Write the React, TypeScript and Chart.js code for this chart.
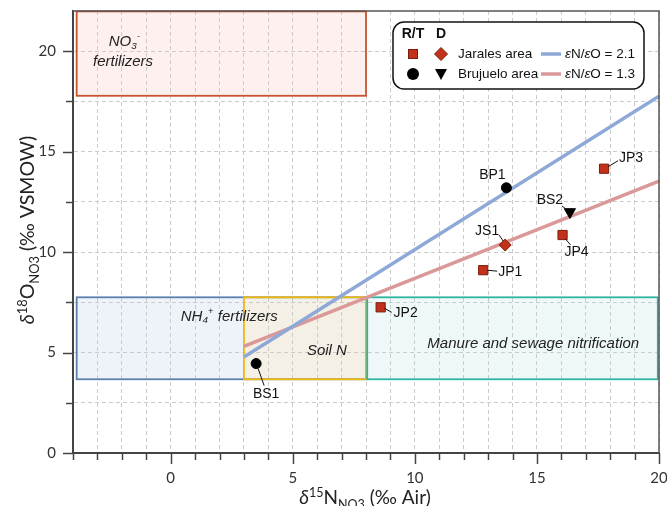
import React, { useEffect, useRef } from "react";
import { Chart, registerables } from "chart.js";

Chart.register(...registerables);

// ---------------- data ----------------
const xMin = -4;
const xMax = 20;
const yMin = 0;
const yMax = 22;
const xLabelValues = [0, 5, 10, 15, 20];
const yLabelValues = [0, 5, 10, 15, 20];

// R/T samples, Jarales area (squares)
const jaralesRTNames = ["JP1", "JP2", "JP3", "JP4"];
const jaralesRTX = [12.8, 8.6, 17.75, 16.05];
const jaralesRTY = [9.1, 7.25, 14.15, 10.85];
// R/T samples, Brujuelo area (circles)
const brujueloRTNames = ["BS1", "BP1"];
const brujueloRTX = [3.5, 13.75];
const brujueloRTY = [4.45, 13.2];
// D samples, Jarales area (diamond)
const jaralesDNames = ["JS1"];
const jaralesDX = [13.7];
const jaralesDY = [10.35];
// D samples, Brujuelo area (triangle)
const brujueloDNames = ["BS2"];
const brujueloDX = [16.35];
const brujueloDY = [12.0];

// fractionation lines
const fractionX = [3, 20];
const fraction21Y = [4.78, 17.76];
const fraction13Y = [5.31, 13.53];

// source zones
const zoneKeys = ["no3", "nh4", "soil", "manure"];
const zoneX0 = [-3.85, -3.85, 3, 8.05];
const zoneX1 = [8, 8, 8, 19.95];
const zoneY0 = [17.78, 3.67, 3.67, 3.67];
const zoneY1 = [21.98, 7.75, 7.75, 7.75];

// ---------------- styles ----------------
const zoneStyle: Record<string, { fill: string; stroke: string }> = {
  no3: { fill: "#fdf0ef", stroke: "#c8542e" },
  nh4: { fill: "#eef3fa", stroke: "#5b82ad" },
  soil: { fill: "#f4f0e6", stroke: "#f1b80c" },
  manure: { fill: "#eff8f9", stroke: "#2fb5a3" },
};

// label offsets in pixels relative to the marker: text centre (dx,dy), leader line (l0 -> l1)
const labelStyle: Record<string, { dx: number; dy: number; l?: number[] }> = {
  BS1: { dx: 10, dy: 31, l: [2, 5, 8, 22] },
  BP1: { dx: -14, dy: -13 },
  JS1: { dx: -18, dy: -14, l: [-6, -10, -2, -4] },
  JP1: { dx: 27, dy: 2, l: [4, 0, 14, 1] },
  JP2: { dx: 25, dy: 6, l: [4, 1, 11, 5] },
  JP3: { dx: 27, dy: -11, l: [4, -2, 14, -8] },
  JP4: { dx: 14, dy: 17, l: [3, 4, 8, 10] },
  BS2: { dx: -20, dy: -12, l: [-8, -6, -4, -3] },
};

const BLUE = "#8ea8d8";
const RED = "#da9898";
const SQ_RED = "#c2321b";
const SANS = "'Liberation Sans', Arial, sans-serif";
const TICKF = "Lato, 'Liberation Sans', sans-serif";

type Seg = { t: string; sub?: boolean; sup?: boolean; italic?: boolean };

function segFont(s: Seg, size: number, family: string, italicBase: boolean) {
  const sz = s.sub || s.sup ? size * 0.66 : size;
  const it = s.italic ?? italicBase;
  return `${it ? "italic " : ""}${sz}px ${family}`;
}

function drawRich(
  ctx: CanvasRenderingContext2D,
  segs: Seg[],
  x: number,
  y: number,
  size: number,
  family: string,
  align: "left" | "center",
  italicBase = false
) {
  let w = 0;
  const widths: number[] = [];
  for (const s of segs) {
    ctx.font = segFont(s, size, family, italicBase);
    const m = ctx.measureText(s.t).width;
    widths.push(m);
    w += m;
  }
  let cx = align === "center" ? x - w / 2 : x;
  ctx.textAlign = "left";
  segs.forEach((s, i) => {
    ctx.font = segFont(s, size, family, italicBase);
    const dy = s.sub ? size * 0.25 : s.sup ? -size * 0.38 : 0;
    ctx.fillText(s.t, cx, y + dy);
    cx += widths[i];
  });
}

function drawMarker(ctx: CanvasRenderingContext2D, kind: string, x: number, y: number) {
  ctx.save();
  ctx.lineWidth = 1;
  if (kind === "square") {
    ctx.fillStyle = SQ_RED;
    ctx.strokeStyle = "#7d1c0c";
    ctx.fillRect(x - 4.5, y - 4.5, 9, 9);
    ctx.strokeRect(x - 4.5, y - 4.5, 9, 9);
  } else if (kind === "diamond") {
    ctx.fillStyle = SQ_RED;
    ctx.strokeStyle = "#7d1c0c";
    ctx.beginPath();
    ctx.moveTo(x, y - 6.5);
    ctx.lineTo(x + 6.5, y);
    ctx.lineTo(x, y + 6.5);
    ctx.lineTo(x - 6.5, y);
    ctx.closePath();
    ctx.fill();
    ctx.stroke();
  } else if (kind === "circle") {
    ctx.fillStyle = "#000";
    ctx.beginPath();
    ctx.arc(x, y, 6, 0, Math.PI * 2);
    ctx.fill();
  } else {
    ctx.fillStyle = "#000";
    ctx.beginPath();
    ctx.moveTo(x - 6, y - 5);
    ctx.lineTo(x + 6, y - 5);
    ctx.lineTo(x, y + 6);
    ctx.closePath();
    ctx.fill();
  }
  ctx.restore();
}

const decorPlugin = {
  id: "decor",
  beforeDraw(chart: any) {
    const { ctx } = chart;
    const xs = chart.scales.x;
    const ys = chart.scales.y;
    ctx.save();
    zoneKeys.forEach((k, i) => {
      const x0 = xs.getPixelForValue(zoneX0[i]);
      const x1 = xs.getPixelForValue(zoneX1[i]);
      const y0 = ys.getPixelForValue(zoneY1[i]);
      const y1 = ys.getPixelForValue(zoneY0[i]);
      ctx.fillStyle = zoneStyle[k].fill;
      ctx.fillRect(x0, y0, x1 - x0, y1 - y0);
    });
    ctx.restore();
  },
  beforeDatasetsDraw(chart: any) {
    const { ctx } = chart;
    const xs = chart.scales.x;
    const ys = chart.scales.y;
    ctx.save();
    ctx.lineWidth = 1.8;
    zoneKeys.forEach((k, i) => {
      const x0 = xs.getPixelForValue(zoneX0[i]);
      const x1 = xs.getPixelForValue(zoneX1[i]);
      const y0 = ys.getPixelForValue(zoneY1[i]);
      const y1 = ys.getPixelForValue(zoneY0[i]);
      ctx.strokeStyle = zoneStyle[k].stroke;
      ctx.strokeRect(x0, y0, x1 - x0, y1 - y0);
    });
    // zone labels
    ctx.fillStyle = "#222";
    ctx.textBaseline = "middle";
    const P = (x: number, y: number) => [xs.getPixelForValue(x), ys.getPixelForValue(y)];
    let p = P(-1.9, 20.45);
    drawRich(ctx, [{ t: "NO" }, { t: "3", sub: true }, { t: "-", sup: true }], p[0], p[1], 15, SANS, "center", true);
    p = P(-1.95, 19.45);
    drawRich(ctx, [{ t: "fertilizers" }], p[0], p[1], 15, SANS, "center", true);
    p = P(2.4, 6.78);
    drawRich(ctx, [{ t: "NH" }, { t: "4", sub: true }, { t: "+", sup: true }, { t: " fertilizers" }], p[0], p[1], 15, SANS, "center", true);
    p = P(6.4, 5.07);
    drawRich(ctx, [{ t: "Soil N" }], p[0], p[1], 15, SANS, "center", true);
    p = P(14.85, 5.45);
    drawRich(ctx, [{ t: "Manure and sewage nitrification" }], p[0], p[1], 15, SANS, "center", true);
    ctx.restore();
  },
  afterDraw(chart: any) {
    const { ctx, chartArea } = chart;
    const xs = chart.scales.x;
    const ys = chart.scales.y;
    ctx.save();
    // frame
    ctx.strokeStyle = "#555";
    ctx.lineWidth = 1.5;
    ctx.beginPath();
    ctx.moveTo(chartArea.left, chartArea.top);
    ctx.lineTo(chartArea.right, chartArea.top);
    ctx.lineTo(chartArea.right, chartArea.bottom);
    ctx.stroke();
    // tick marks
    ctx.strokeStyle = "#444";
    ctx.lineWidth = 1.5;
    xs.ticks.forEach((t: any) => {
      const px = Math.round(xs.getPixelForValue(t.value)) + 0.5;
      const len = t.value % 5 === 0 ? 11 : 7;
      ctx.beginPath();
      ctx.moveTo(px, chartArea.bottom);
      ctx.lineTo(px, chartArea.bottom + len);
      ctx.stroke();
    });
    ys.ticks.forEach((t: any) => {
      const py = Math.round(ys.getPixelForValue(t.value)) + 0.5;
      const len = t.value % 5 === 0 ? 10 : 7;
      ctx.beginPath();
      ctx.moveTo(chartArea.left, py);
      ctx.lineTo(chartArea.left - len, py);
      ctx.stroke();
    });

    // point labels
    ctx.fillStyle = "#111";
    ctx.strokeStyle = "#111";
    ctx.lineWidth = 1;
    ctx.textBaseline = "middle";
    ctx.textAlign = "center";
    ctx.font = `14px ${SANS}`;
    const groups = [
      [jaralesRTNames, jaralesRTX, jaralesRTY],
      [brujueloRTNames, brujueloRTX, brujueloRTY],
      [jaralesDNames, jaralesDX, jaralesDY],
      [brujueloDNames, brujueloDX, brujueloDY],
    ] as [string[], number[], number[]][];
    groups.forEach(([names, xv, yv]) => {
      names.forEach((n, i) => {
        const px = xs.getPixelForValue(xv[i]);
        const py = ys.getPixelForValue(yv[i]);
        const st = labelStyle[n];
        if (st.l) {
          ctx.beginPath();
          ctx.moveTo(px + st.l[0], py + st.l[1]);
          ctx.lineTo(px + st.l[2], py + st.l[3]);
          ctx.stroke();
        }
        ctx.fillText(n, px + st.dx, py + st.dy);
      });
    });

    // axis titles
    ctx.fillStyle = "#222";
    ctx.textBaseline = "alphabetic";
    drawRich(
      ctx,
      [{ t: "δ", italic: true }, { t: "15", sup: true }, { t: "N" }, { t: "NO", sub: true }, { t: "3", sub: true }, { t: " (‰ Air)" }],
      365,
      504,
      19,
      TICKF,
      "center"
    );
    ctx.save();
    ctx.translate(34, 230);
    ctx.rotate(-Math.PI / 2);
    drawRich(
      ctx,
      [{ t: "δ", italic: true }, { t: "18", sup: true }, { t: "O" }, { t: "NO", sub: true }, { t: "3", sub: true }, { t: " (‰ VSMOW)" }],
      0,
      0,
      19.5,
      TICKF,
      "center"
    );
    ctx.restore();

    // legend box
    const L = 393, T = 22, R = 644, B = 89, r = 11;
    ctx.fillStyle = "#fff";
    ctx.strokeStyle = "#111";
    ctx.lineWidth = 1.5;
    ctx.beginPath();
    ctx.moveTo(L + r, T);
    ctx.lineTo(R - r, T);
    ctx.arcTo(R, T, R, T + r, r);
    ctx.lineTo(R, B - r);
    ctx.arcTo(R, B, R - r, B, r);
    ctx.lineTo(L + r, B);
    ctx.arcTo(L, B, L, B - r, r);
    ctx.lineTo(L, T + r);
    ctx.arcTo(L, T, L + r, T, r);
    ctx.closePath();
    ctx.fill();
    ctx.stroke();

    ctx.fillStyle = "#111";
    ctx.textBaseline = "middle";
    ctx.textAlign = "center";
    ctx.font = `bold 14px ${SANS}`;
    ctx.fillText("R/T", 413, 34);
    ctx.fillText("D", 441, 34);
    drawMarker(ctx, "square", 413, 54);
    drawMarker(ctx, "diamond", 441, 54);
    drawMarker(ctx, "circle", 413, 74);
    drawMarker(ctx, "triangle", 441, 74);
    ctx.textAlign = "left";
    ctx.font = `13.5px ${SANS}`;
    ctx.fillText("Jarales area", 458, 54);
    ctx.fillText("Brujuelo area", 458, 74);
    ctx.lineWidth = 3.5;
    ctx.strokeStyle = BLUE;
    ctx.beginPath();
    ctx.moveTo(541, 54);
    ctx.lineTo(561, 54);
    ctx.stroke();
    ctx.strokeStyle = RED;
    ctx.beginPath();
    ctx.moveTo(541, 74);
    ctx.lineTo(561, 74);
    ctx.stroke();
    ctx.fillStyle = "#111";
    drawRich(ctx, [{ t: "ε", italic: true }, { t: "N/" }, { t: "ε", italic: true }, { t: "O = 2.1" }], 565, 54, 13.5, SANS, "left");
    drawRich(ctx, [{ t: "ε", italic: true }, { t: "N/" }, { t: "ε", italic: true }, { t: "O = 1.3" }], 565, 74, 13.5, SANS, "left");
    ctx.restore();
  },
};

function toPts(xv: number[], yv: number[]) {
  return xv.map((x, i) => ({ x, y: yv[i] }));
}

export default function App() {
  const ref = useRef<HTMLCanvasElement | null>(null);
  useEffect(() => {
    document.body.style.margin = "0";
    if (!ref.current) return;
    const chart = new Chart(ref.current, {
      type: "scatter",
      data: {
        datasets: [
          {
            type: "line",
            label: "εN/εO = 2.1",
            data: toPts(fractionX, fraction21Y),
            borderColor: BLUE,
            borderWidth: 3.5,
            pointRadius: 0,
            fill: false,
            order: 2,
          },
          {
            type: "line",
            label: "εN/εO = 1.3",
            data: toPts(fractionX, fraction13Y),
            borderColor: RED,
            borderWidth: 3.5,
            pointRadius: 0,
            fill: false,
            order: 2,
          },
          {
            label: "R/T Jarales area",
            data: toPts(jaralesRTX, jaralesRTY),
            pointStyle: "rect",
            pointRadius: 6.5,
            backgroundColor: SQ_RED,
            borderColor: "#7d1c0c",
            borderWidth: 1,
            order: 0,
          },
          {
            label: "R/T Brujuelo area",
            data: toPts(brujueloRTX, brujueloRTY),
            pointStyle: "circle",
            pointRadius: 5,
            backgroundColor: "#000",
            borderColor: "#000",
            borderWidth: 1,
            order: 0,
          },
          {
            label: "D Jarales area",
            data: toPts(jaralesDX, jaralesDY),
            pointStyle: "rectRot",
            pointRadius: 6,
            backgroundColor: SQ_RED,
            borderColor: "#7d1c0c",
            borderWidth: 1,
            order: 0,
          },
          {
            label: "D Brujuelo area",
            data: toPts(brujueloDX, brujueloDY),
            pointStyle: "triangle",
            pointRotation: 180,
            pointRadius: 6.5,
            backgroundColor: "#000",
            borderColor: "#000",
            borderWidth: 1,
            order: 0,
          },
        ],
      },
      options: {
        responsive: false,
        animation: false,
        events: [],
        layout: { padding: { top: 11, right: 8, left: 0, bottom: 0 } },
        plugins: { legend: { display: false }, tooltip: { enabled: false } },
        scales: {
          x: {
            type: "linear",
            min: xMin,
            max: xMax,
            afterFit: (s: any) => {
              s.height = 53;
              s.paddingLeft = 0;
              s.paddingRight = 0;
            },
            ticks: {
              stepSize: 1,
              autoSkip: false,
              maxRotation: 0,
              padding: 16,
              color: "#333",
              font: { family: TICKF, size: 15 },
              callback: (v: any) => (xLabelValues.includes(Number(v)) ? String(v) : ""),
            },
            grid: { color: "#cbcbcb", lineWidth: 1, drawTicks: false },
            border: { display: true, color: "#444", width: 2, dash: [4, 3] },
          },
          y: {
            type: "linear",
            min: yMin,
            max: yMax,
            afterFit: (s: any) => {
              s.width = 73;
              s.paddingTop = 0;
              s.paddingBottom = 0;
            },
            ticks: {
              stepSize: 2.5,
              includeBounds: false,
              autoSkip: false,
              padding: 17,
              color: "#333",
              font: { family: TICKF, size: 15 },
              callback: (v: any) => (yLabelValues.includes(Number(v)) ? String(v) : ""),
            },
            grid: { color: "#cbcbcb", lineWidth: 1, drawTicks: false },
            border: { display: true, color: "#444", width: 2, dash: [4, 3] },
          },
        },
      },
      plugins: [decorPlugin],
    } as any);
    return () => chart.destroy();
  }, []);
  return (
    <div style={{ position: "absolute", left: 0, top: 0, width: 667, height: 506, background: "#fff" }}>
      <canvas ref={ref} width={667} height={506} style={{ width: 667, height: 506 }} />
    </div>
  );
}
